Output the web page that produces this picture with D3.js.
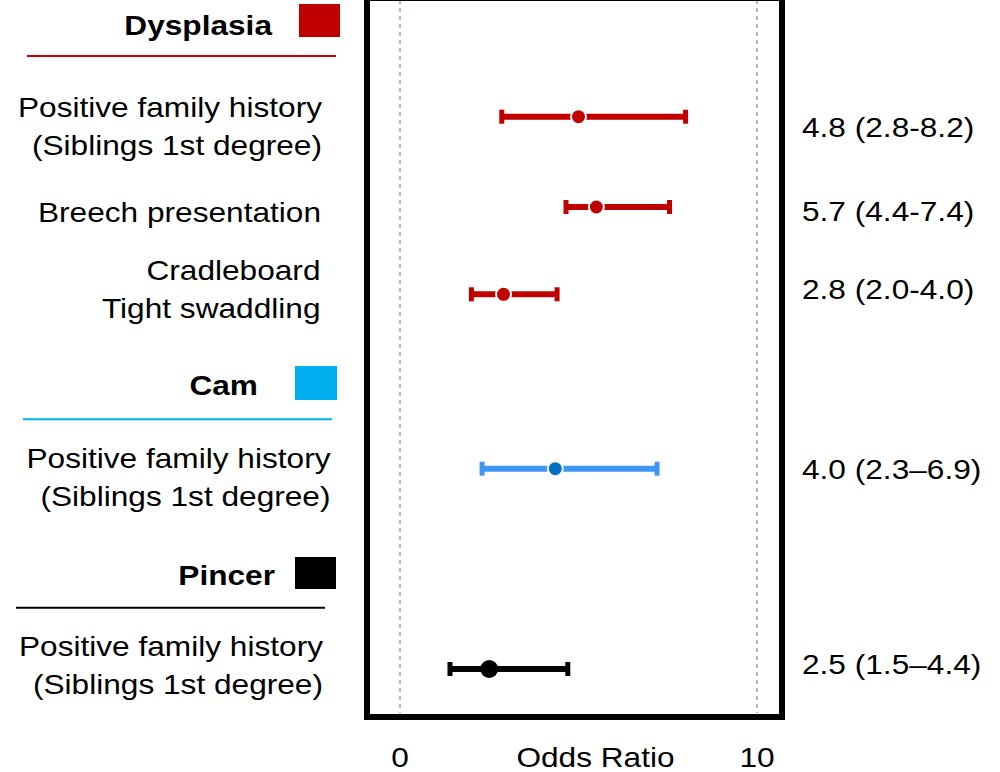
<!DOCTYPE html>
<html>
<head>
<meta charset="utf-8">
<script src="https://cdn.jsdelivr.net/npm/d3@7"></script>
<style>
  html, body { margin: 0; padding: 0; background: #fff; }
  svg { display: block; font-family: "Liberation Sans", Arial, sans-serif; }
</style>
</head>
<body>
<svg id="chart" width="1000" height="772"></svg>
<script>
// ---------------- DATA ----------------
const groups = ["Dysplasia", "Cam", "Pincer"];
const factorLabels = [
  ["Positive family history", "(Siblings 1st degree)"],
  ["Breech presentation"],
  ["Cradleboard", "Tight swaddling"],
  ["Positive family history", "(Siblings 1st degree)"],
  ["Positive family history", "(Siblings 1st degree)"]
];
const factorGroup = ["Dysplasia", "Dysplasia", "Dysplasia", "Cam", "Pincer"];
const oddsRatio = [5.0, 5.5, 2.9, 4.35, 2.5];
const ciLower   = [2.85, 4.65, 2.0, 2.3, 1.4];
const ciUpper   = [8.0, 7.55, 4.4, 7.2, 4.7];
const ciLabels  = ["4.8 (2.8-8.2)", "5.7 (4.4-7.4)", "2.8 (2.0-4.0)", "4.0 (2.3\u20136.9)", "2.5 (1.5\u20134.4)"];
const xTicks = [0, 10];
const xTitle = "Odds Ratio";

// ---------------- STYLE / LAYOUT ----------------
const groupColor = { Dysplasia: "#c00000", Cam: "#00b0f0", Pincer: "#000000" };
const barColor   = { Dysplasia: "#c00000", Cam: "#4096f5", Pincer: "#000000" };
const dotColor   = { Dysplasia: "#c00000", Cam: "#0070c0", Pincer: "#000000" };
const dotRadius  = { Dysplasia: 7.5, Cam: 7.5, Pincer: 9 };
const dotStroke  = { Dysplasia: "#fff", Cam: "#fff", Pincer: "none" };
const SX = 1.13; // horizontal stretch of text
const FS = 28;

const svg = d3.select("#chart");
const rows = d3.range(oddsRatio.length);

const x = d3.scaleLinear().domain([0, 10]).range([400, 757]);
const y = d3.scaleOrdinal().domain(rows).range([116.7, 207, 294.3, 468.7, 669]);
const labelY = d3.scaleOrdinal().domain(rows).range([116.7, 221.7, 280, 467.7, 655.7]);
const labelRight = d3.scaleOrdinal().domain(rows).range([322, 321, 320.5, 330.5, 323]);
const valueY = d3.scaleOrdinal().domain(rows).range([137, 221, 299, 479, 674]);

const headerY = d3.scaleOrdinal().domain(groups).range([35, 395, 585]);
const headerRight = d3.scaleOrdinal().domain(groups).range([272, 258, 275]);
const swatch = d3.scaleOrdinal().domain(groups).range([
  {x: 299, y: 4, w: 41, h: 33}, {x: 295, y: 366, w: 42, h: 34}, {x: 295, y: 557, w: 41, h: 32}
]);
const rule = d3.scaleOrdinal().domain(groups).range([
  {y: 56, x1: 27, x2: 336}, {y: 419.3, x1: 23, x2: 332}, {y: 607.7, x1: 16, x2: 325}
]);

const lineGap = 38;

// Plot frame
const plotTop = 0, plotBottom = 713;

// dashed reference lines
svg.append("g").selectAll("line").data(xTicks).join("line")
  .attr("x1", d => x(d)).attr("x2", d => x(d))
  .attr("y1", plotTop).attr("y2", plotBottom)
  .attr("stroke", "#6f8f80").attr("stroke-width", 1.2)
  .attr("stroke-dasharray", "4,4");

// frame
svg.append("rect")
  .attr("x", 367).attr("y", -2).attr("width", 415).attr("height", 719)
  .attr("fill", "none").attr("stroke", "#000").attr("stroke-width", 6);

// axis tick labels
const axis = d3.axisBottom(x).tickValues(xTicks).tickSize(0).tickFormat(d3.format("d"));
const axG = svg.append("g").call(axis);
axG.select(".domain").remove();
axG.selectAll("text")
  .attr("y", 767).attr("dy", null)
  .attr("fill", "#000")
  .style("font-size", FS + "px")
  .style("font-family", "'Liberation Sans', Arial, sans-serif")
  .attr("transform", `scale(${SX},1)`);
axG.selectAll(".tick").attr("transform", d => `translate(${x(d)},0)`);

svg.append("text")
  .attr("transform", `translate(595.5,767) scale(${SX},1)`)
  .attr("text-anchor", "middle").style("font-size", FS + "px").text(xTitle);

// group headers
const hg = svg.append("g").selectAll("g").data(groups).join("g");
hg.append("text")
  .attr("transform", d => `translate(${headerRight(d)},${headerY(d)}) scale(${SX},1)`)
  .attr("text-anchor", "end").style("font-size", FS + "px").style("font-weight", "bold")
  .text(d => d);
hg.append("rect")
  .attr("x", d => swatch(d).x).attr("y", d => swatch(d).y)
  .attr("width", d => swatch(d).w).attr("height", d => swatch(d).h)
  .attr("fill", d => groupColor[d]);
hg.append("line")
  .attr("x1", d => rule(d).x1).attr("x2", d => rule(d).x2)
  .attr("y1", d => rule(d).y).attr("y2", d => rule(d).y)
  .attr("stroke", d => groupColor[d]).attr("stroke-width", 2);

// factor labels
const lg = svg.append("g").selectAll("g").data(rows).join("g");
lg.each(function(i) {
  d3.select(this).selectAll("text").data(factorLabels[i]).join("text")
    .attr("transform", (t, j) => `translate(${labelRight(i)},${labelY(i) + j * lineGap}) scale(${SX},1)`)
    .attr("text-anchor", "end").style("font-size", FS + "px").text(t => t);
});

// value labels
svg.append("g").selectAll("text").data(rows).join("text")
  .attr("transform", i => `translate(802,${valueY(i)}) scale(${SX},1)`)
  .style("font-size", FS + "px").text(i => ciLabels[i]);

// error bars
const eb = svg.append("g").selectAll("g").data(rows).join("g");
eb.append("line")
  .attr("x1", i => x(ciLower[i])).attr("x2", i => x(ciUpper[i]))
  .attr("y1", i => y(i)).attr("y2", i => y(i))
  .attr("stroke", i => barColor[factorGroup[i]]).attr("stroke-width", 6);
["lo", "hi"].forEach(side => {
  eb.append("rect")
    .attr("x", i => x(side === "lo" ? ciLower[i] : ciUpper[i]) - 2.5)
    .attr("y", i => y(i) - 7)
    .attr("width", 5).attr("height", 14)
    .attr("fill", i => barColor[factorGroup[i]]);
});
eb.append("circle")
  .attr("cx", i => x(oddsRatio[i])).attr("cy", i => y(i))
  .attr("r", i => dotRadius[factorGroup[i]])
  .attr("fill", i => dotColor[factorGroup[i]])
  .attr("stroke", i => dotStroke[factorGroup[i]]).attr("stroke-width", 2);
</script>
</body>
</html>
